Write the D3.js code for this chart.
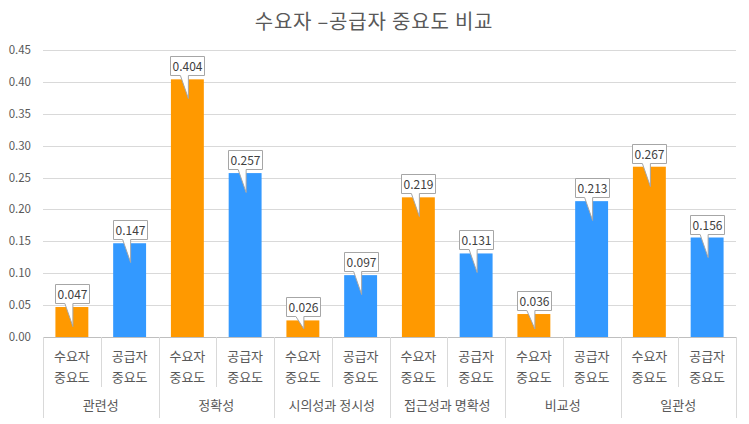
<!DOCTYPE html>
<html><head><meta charset="utf-8">
<script src="https://cdn.jsdelivr.net/npm/d3@7"></script>
<style>body{margin:0;background:#fff}svg{display:block}text{font-family:"Noto Sans CJK KR","Noto Sans",sans-serif}</style>
</head><body><svg id="c" width="749" height="424"></svg>
<script>
const title = "수요자 –공급자 중요도 비교";
const categories = ["관련성","정확성","시의성과 정시성","접근성과 명확성","비교성","일관성"];
const seriesNames = ["수요자 중요도","공급자 중요도"];
const demand = [0.047,0.404,0.026,0.219,0.036,0.267];
const supply = [0.147,0.257,0.097,0.131,0.213,0.156];
const yTicks = [0,0.05,0.10,0.15,0.20,0.25,0.30,0.35,0.40,0.45];
const colors = ["#FF9900","#3399FF"];

const svg = d3.select("#c");
const L = 43, R = 736, T = 50, B = 337;
const y = d3.scaleLinear().domain([0,0.45]).range([B,T]);
const x0 = d3.scaleBand().domain(categories).range([L,R]).paddingInner(0).paddingOuter(0);
const x1 = d3.scaleBand().domain([0,1]).range([0,x0.bandwidth()]).paddingInner(0.43).paddingOuter(0.215);
const sub = d3.scaleBand().domain([0,1]).range([0,x0.bandwidth()]);

svg.append("text").attr("x",374).attr("y",29).attr("text-anchor","middle")
  .attr("font-size",20).attr("letter-spacing",0.8).attr("fill","#595959").text(title);

// grid
svg.append("g").selectAll("line").data(yTicks.slice(1)).join("line")
  .attr("x1",L).attr("x2",R).attr("y1",d=>Math.round(y(d))+0.5).attr("y2",d=>Math.round(y(d))+0.5)
  .attr("stroke","#d9d9d9").attr("stroke-width",1);
svg.append("g").selectAll("text").data(yTicks).join("text")
  .attr("x",31).attr("y",d=>y(d)+4).attr("text-anchor","end").attr("font-size",11.5).attr("fill","#595959")
  .text(d=>d3.format(".2f")(d));

// bars
const data = [];
categories.forEach((c,i)=>{ data.push({c,s:0,v:demand[i]}); data.push({c,s:1,v:supply[i]}); });
svg.append("g").selectAll("rect").data(data).join("rect")
  .attr("x",d=>x0(d.c)+x1(d.s)).attr("width",x1.bandwidth())
  .attr("y",d=>y(d.v)).attr("height",d=>B-y(d.v)).attr("fill",d=>colors[d.s]);

// axis line
svg.append("line").attr("x1",L).attr("x2",R).attr("y1",B+0.5).attr("y2",B+0.5).attr("stroke","#bfbfbf");
// category separators
const seps = categories.map(c=>x0(c)).concat([R]);
svg.append("g").selectAll("line").data(seps).join("line")
  .attr("x1",d=>Math.round(d)+0.5).attr("x2",d=>Math.round(d)+0.5).attr("y1",B).attr("y2",418)
  .attr("stroke","#d9d9d9");
svg.append("g").selectAll("line").data(categories).join("line")
  .attr("x1",d=>Math.round(x0(d)+sub(1))+0.5).attr("x2",d=>Math.round(x0(d)+sub(1))+0.5).attr("y1",B).attr("y2",387)
  .attr("stroke","#d9d9d9");
// sub labels
const sl = svg.append("g");
data.forEach(d=>{
  const cx = x0(d.c)+sub(d.s)+sub.bandwidth()/2;
  const parts = seriesNames[d.s].split(" ");
  parts.forEach((p,k)=>sl.append("text").attr("x",cx).attr("y",361+k*21).attr("text-anchor","middle")
    .attr("font-size",13).attr("fill","#595959").text(p));
});
svg.append("g").selectAll("text").data(categories).join("text")
  .attr("x",d=>x0(d)+x0.bandwidth()/2).attr("y",410).attr("text-anchor","middle")
  .attr("font-size",13).attr("fill","#595959").text(d=>d);

// callouts
const cg = svg.append("g");
data.forEach(d=>{
  const cx = x0(d.c)+x1(d.s)+x1.bandwidth()/2;
  const top = y(d.v);
  const bw = 34, bh = 19;
  const bx = Math.round(cx-bw/2)+0.5, by = Math.round(top-4-bh)+0.5;
  const bb = by+bh;
  const tipY = Math.min(bb+23, B-8);
  const path = `M${bx},${by}H${bx+bw}V${bb}H${cx+1}L${cx+1},${tipY}L${cx-7},${bb}H${bx}Z`;
  cg.append("path").attr("d",path).attr("fill","#fff").attr("stroke","#a6a6a6").attr("stroke-width",1);
  cg.append("text").attr("x",bx+bw/2).attr("y",bb-5).attr("text-anchor","middle")
    .attr("font-size",12).attr("fill","#404040").text(d3.format(".3f")(d.v));
});
</script></body></html>
